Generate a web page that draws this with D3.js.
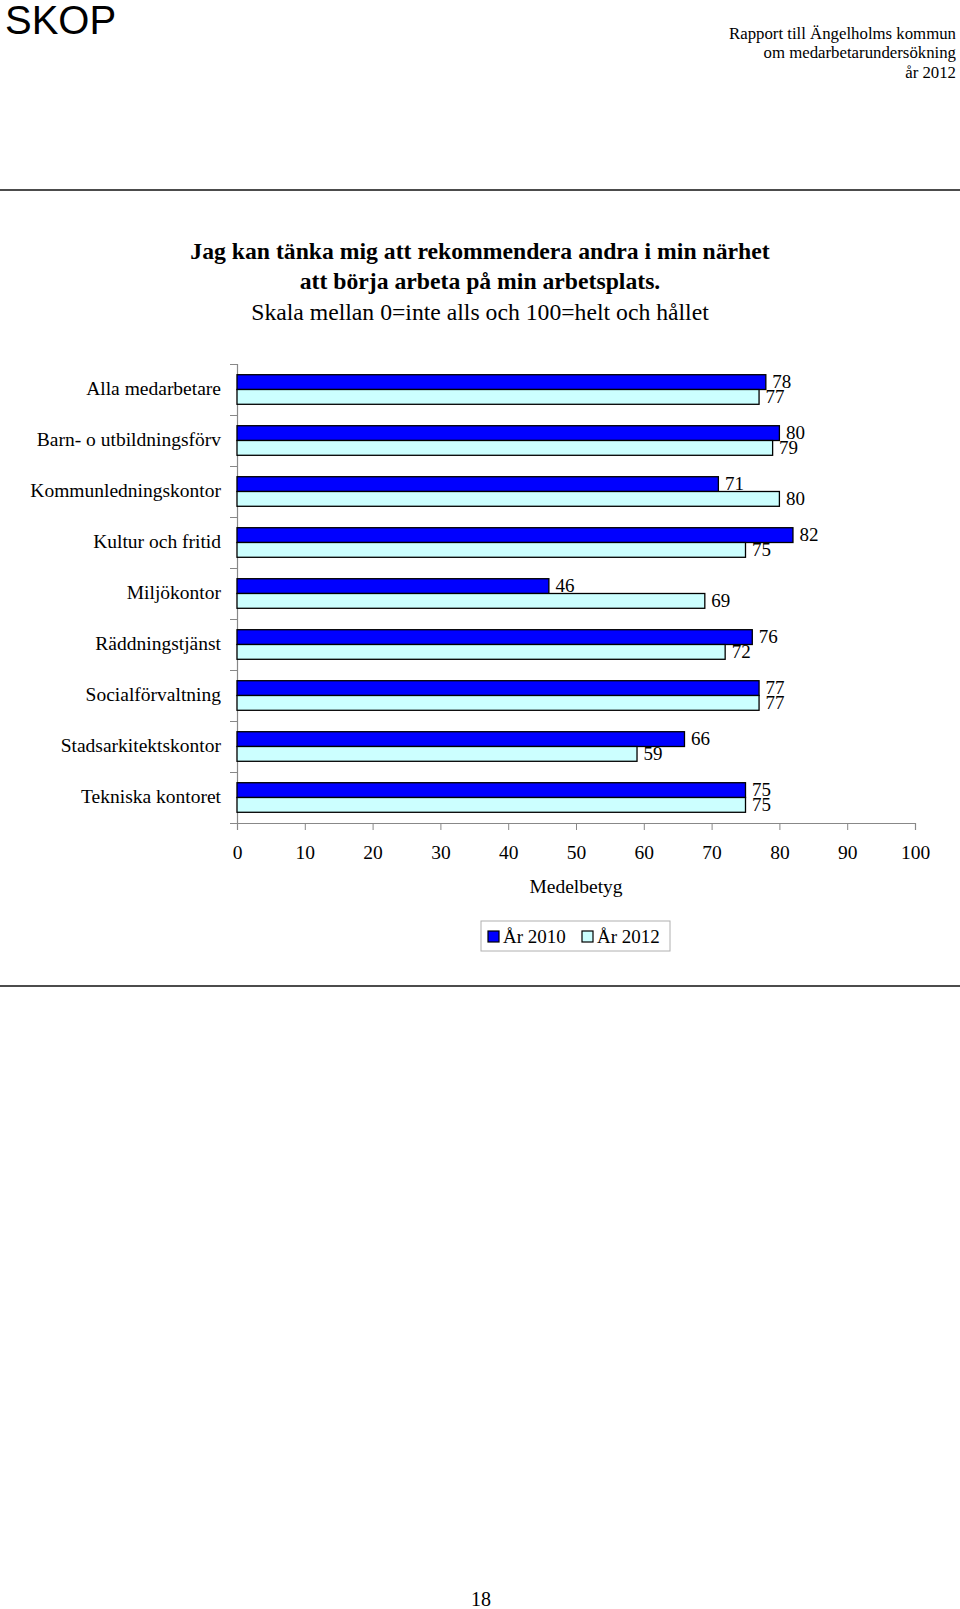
<!DOCTYPE html>
<html>
<head>
<meta charset="utf-8">
<script src="https://cdn.jsdelivr.net/npm/d3@7"></script>
<style>
  html, body { margin: 0; padding: 0; background: #fff; }
  svg { display: block; }
  text { font-family: "Liberation Serif", "Times New Roman", serif; fill: #000; }
</style>
</head>
<body>
<script>
// ---- Data ----
const categories = [
  "Alla medarbetare",
  "Barn- o utbildningsförv",
  "Kommunledningskontor",
  "Kultur och fritid",
  "Miljökontor",
  "Räddningstjänst",
  "Socialförvaltning",
  "Stadsarkitektskontor",
  "Tekniska kontoret"
];
const values2010 = [78, 80, 71, 82, 46, 76, 77, 66, 75];
const values2012 = [77, 79, 80, 75, 69, 72, 77, 59, 75];
const seriesNames = ["År 2010", "År 2012"];
const seriesColors = ["#0000ff", "#ccffff"];
const xTickValues = [0, 10, 20, 30, 40, 50, 60, 70, 80, 90, 100];
const titleLines = [
  "Jag kan tänka mig att rekommendera andra i min närhet",
  "att börja arbeta på min arbetsplats.",
  "Skala mellan 0=inte alls och 100=helt och hållet"
];
const headerLines = [
  "Rapport till Ängelholms kommun",
  "om medarbetarundersökning",
  "år 2012"
];
const axisTitle = "Medelbetyg";
const pageNumber = "18";

// ---- Layout ----
const W = 960, H = 1609;
const plot = { left: 237, right: 915, top: 364, bottom: 823 };

const svg = d3.select("body").append("svg")
  .attr("width", W).attr("height", H)
  .attr("viewBox", `0 0 ${W} ${H}`);

svg.append("rect").attr("width", W).attr("height", H).attr("fill", "#fff");

// Header
svg.append("text")
  .attr("x", 5).attr("y", 34)
  .style("font-family", "'Liberation Sans', Arial, sans-serif")
  .style("font-size", "40px")
  .text("SKOP");

svg.append("g").selectAll("text").data(headerLines).join("text")
  .attr("x", 956)
  .attr("y", (d, i) => 39 + i * 19.3)
  .attr("text-anchor", "end")
  .style("font-size", "16.8px")
  .text(d => d);

svg.append("line").attr("x1", 0).attr("x2", W).attr("y1", 190).attr("y2", 190)
  .attr("stroke", "#111").attr("stroke-width", 1.6);
svg.append("line").attr("x1", 0).attr("x2", W).attr("y1", 986).attr("y2", 986)
  .attr("stroke", "#111").attr("stroke-width", 1.6);

// Title
const titleY = [259, 289, 320];
svg.append("g").selectAll("text").data(titleLines).join("text")
  .attr("x", 480)
  .attr("y", (d, i) => titleY[i])
  .attr("text-anchor", "middle")
  .style("font-size", "23.7px")
  .style("font-weight", (d, i) => i < 2 ? "bold" : "normal")
  .text(d => d);

// Scales
const x = d3.scaleLinear().domain([0, 100]).range([plot.left, plot.right]);
const y = d3.scaleBand().domain(categories).range([plot.top, plot.bottom])
  .paddingInner(0.42).paddingOuter(0.21);
const ySub = d3.scaleBand().domain(seriesNames).range([0, y.bandwidth()]);
const yEdges = d3.scaleLinear().domain([0, categories.length]).range([plot.top, plot.bottom]);

// Axes
const xAxis = svg.append("g")
  .attr("transform", `translate(0,${plot.bottom})`)
  .call(d3.axisBottom(x).tickValues(xTickValues).tickSize(7).tickPadding(15).tickFormat(d3.format("d")));
xAxis.select(".domain").attr("stroke", "#888").attr("stroke-width", 1.2);
xAxis.selectAll(".tick line").attr("stroke", "#888");
xAxis.selectAll(".tick text")
  .style("font-family", "'Liberation Serif', serif")
  .style("font-size", "19.5px")
  .attr("fill", "#000");

const yAxis = svg.append("g")
  .attr("transform", `translate(${plot.left},0)`)
  .call(d3.axisLeft(yEdges).tickValues(d3.range(categories.length + 1)).tickSize(7).tickFormat(""));
yAxis.select(".domain").attr("stroke", "#888").attr("stroke-width", 1.2);
yAxis.selectAll(".tick line").attr("stroke", "#888");

// Category labels
svg.append("g").selectAll("text").data(categories).join("text")
  .attr("x", 221)
  .attr("y", d => y(d) + y.bandwidth() / 2)
  .attr("dy", "0.3em")
  .attr("text-anchor", "end")
  .style("font-size", "19.5px")
  .text(d => d);

// Bars
const rows = [];
categories.forEach((c, i) => {
  rows.push({ cat: c, series: seriesNames[0], value: values2010[i], color: seriesColors[0] });
  rows.push({ cat: c, series: seriesNames[1], value: values2012[i], color: seriesColors[1] });
});

svg.append("g").selectAll("rect").data(rows).join("rect")
  .attr("x", x(0))
  .attr("y", d => y(d.cat) + ySub(d.series))
  .attr("width", d => x(d.value) - x(0))
  .attr("height", ySub.bandwidth())
  .attr("fill", d => d.color)
  .attr("stroke", "#000")
  .attr("stroke-width", 1.3);

svg.append("g").selectAll("text").data(rows).join("text")
  .attr("x", d => x(d.value) + 6.5)
  .attr("y", d => y(d.cat) + ySub(d.series) + ySub.bandwidth() / 2)
  .attr("dy", "0.32em")
  .style("font-size", "19px")
  .text(d => d.value);

// Axis title
svg.append("text")
  .attr("x", (plot.left + plot.right) / 2)
  .attr("y", 893)
  .attr("text-anchor", "middle")
  .style("font-size", "19.5px")
  .text(axisTitle);

// Legend
const legend = svg.append("g");
legend.append("rect")
  .attr("x", 481).attr("y", 921).attr("width", 189).attr("height", 30)
  .attr("fill", "#fff").attr("stroke", "#b0b0b0").attr("stroke-width", 1);
const legX = [488, 582];
seriesNames.forEach((s, i) => {
  legend.append("rect")
    .attr("x", legX[i]).attr("y", 931).attr("width", 11).attr("height", 11)
    .attr("fill", seriesColors[i]).attr("stroke", "#000").attr("stroke-width", 1.2);
  legend.append("text")
    .attr("x", legX[i] + 15).attr("y", 943)
    .style("font-size", "19px")
    .text(s);
});

// Page number
svg.append("text")
  .attr("x", 481).attr("y", 1606)
  .attr("text-anchor", "middle")
  .style("font-size", "20px")
  .text(pageNumber);
</script>
</body>
</html>
